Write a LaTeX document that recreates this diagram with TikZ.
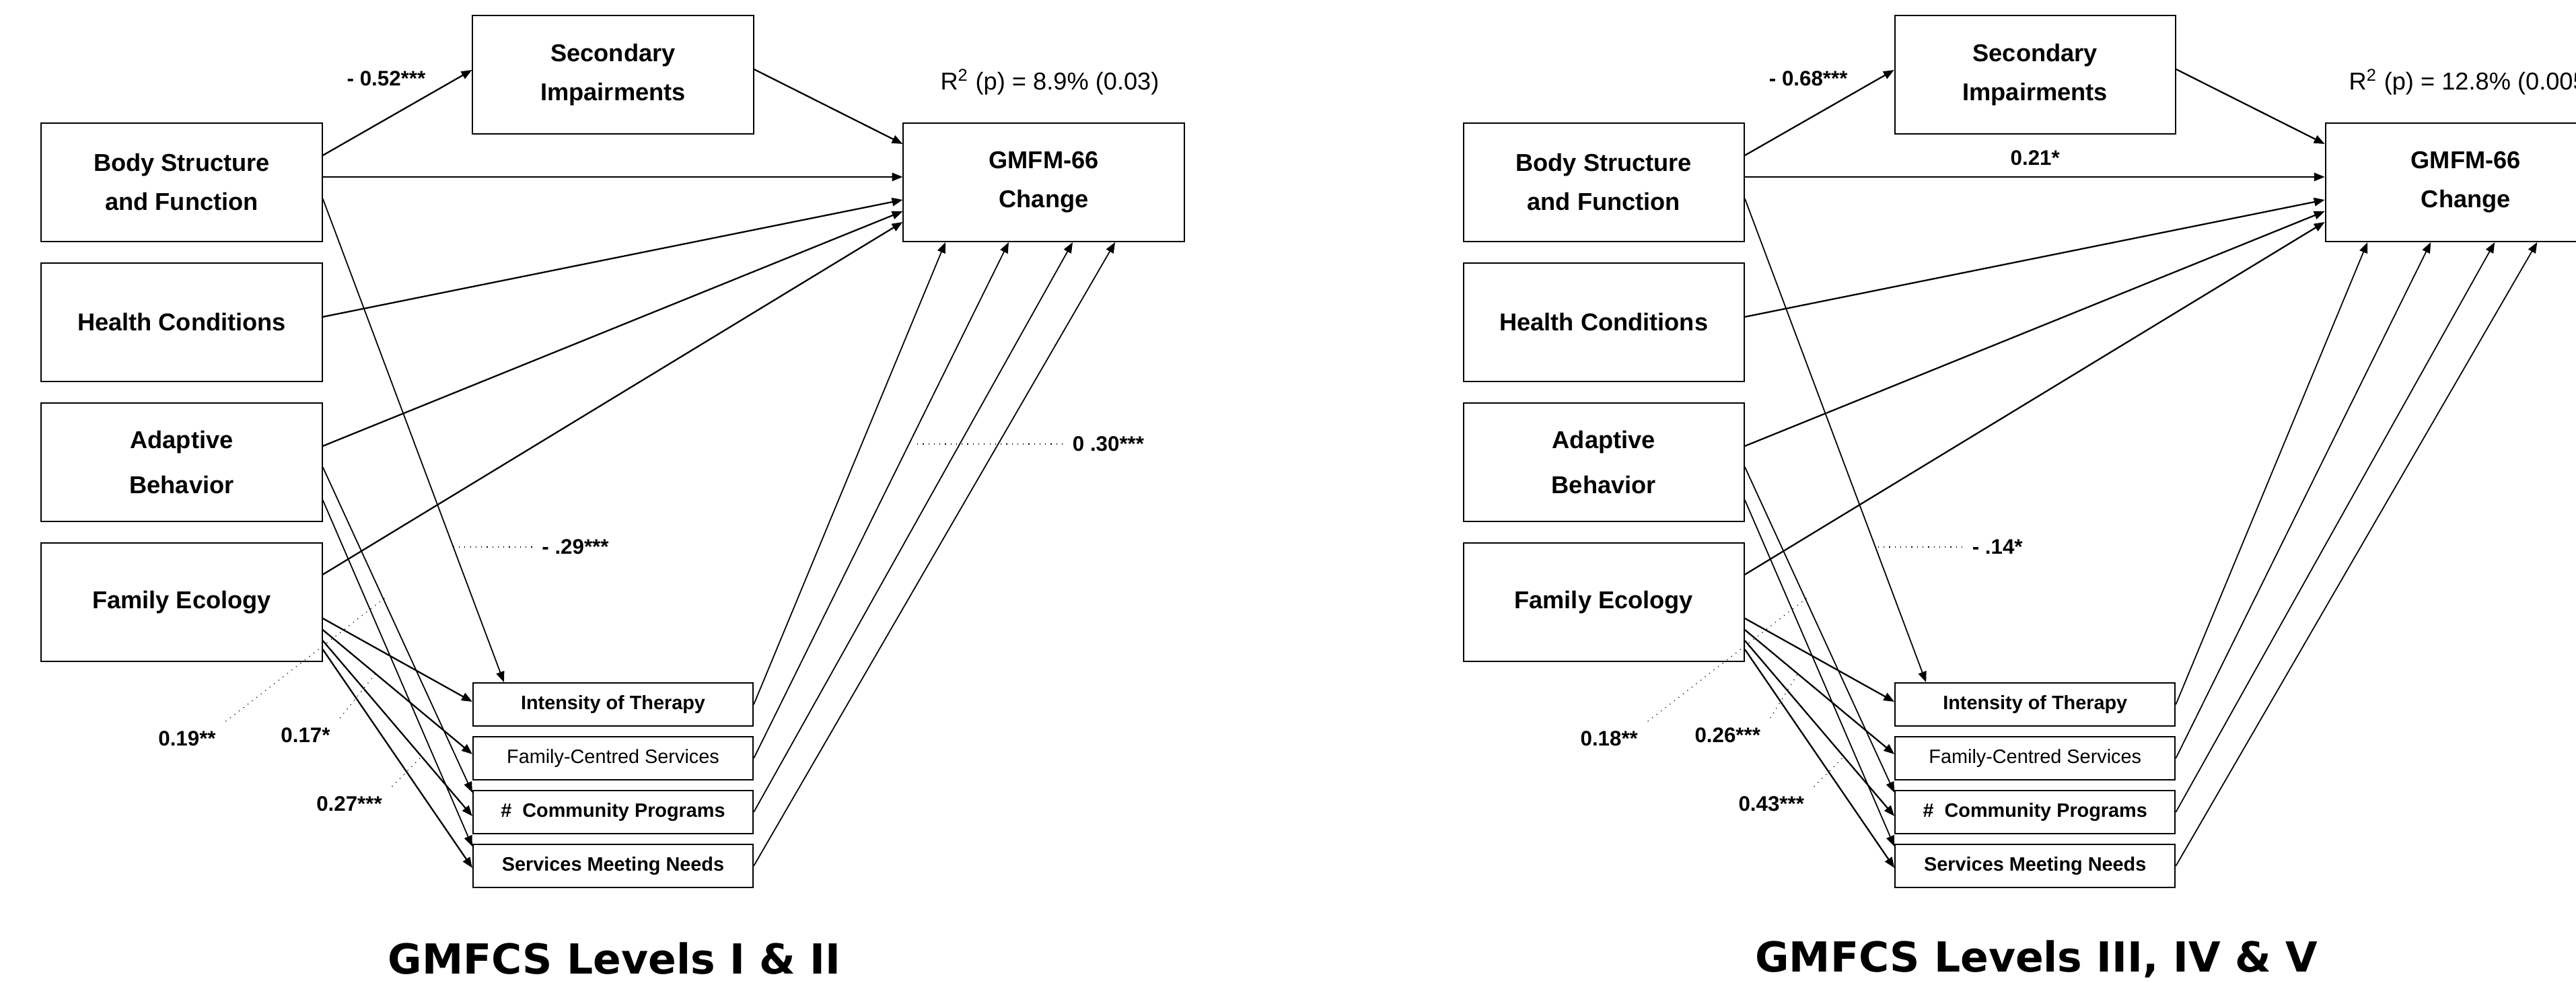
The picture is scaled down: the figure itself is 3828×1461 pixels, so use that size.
\documentclass[tikz,border=0pt]{standalone}
\usepackage{fontspec}
\setmainfont{Liberation Sans}
\newfontfamily\titlefont{DejaVu Sans}
\usetikzlibrary{arrows.meta}

\tikzset{
  bigbox/.style={draw, line width=0.55pt, minimum width=4.17cm, minimum height=1.76cm,
    inner sep=0pt, align=center, font=\fontsize{10.3}{16.5}\selectfont\bfseries},
  smallbox/.style={draw, line width=0.55pt, minimum width=4.16cm, minimum height=0.64cm,
    inner sep=0pt, font=\fontsize{8.2}{10}\selectfont\bfseries},
  coef/.style={font=\fontsize{8.9}{10}\selectfont\bfseries, inner sep=4pt},
  link/.style={line width=0.65pt, -{Triangle[length=4.5pt,width=3.5pt]}},
  thinlink/.style={link, line width=0.5pt},
  leader/.style={dotted, line width=0.35pt},
}

% one panel: suffix, coefficients, R^2, title
\newcommand{\gmfcspanel}[8]{%
  \node[bigbox] (body#1) at (270,271) {Body Structure\\and Function};
  \node[bigbox] (health#1) at (270,479) {Health Conditions};
  \node[bigbox, font=\fontsize{10.3}{19}\selectfont\bfseries] (adapt#1) at (270,687) {Adaptive\\Behavior};
  \node[bigbox] (family#1) at (270,895) {Family Ecology};
  \node[bigbox] (second#1) at (911,111) {Secondary\\Impairments};
  \node[bigbox] (gmfm#1) at (1551,271) {GMFM-66\\Change};
  \node[smallbox] (therapy#1) at (911,1047) {Intensity of Therapy};
  \node[smallbox, font=\fontsize{8.2}{10}\selectfont] (fcs#1) at (911,1127) {Family-Centred Services};
  \node[smallbox] (progs#1) at (911,1207) {\#\ \ Community Programs};
  \node[smallbox] (needs#1) at (911,1287) {Services Meeting Needs};
  % paths
  \draw[link] ([yshift=0.4cm]body#1.east) -- ([yshift=0.07cm]second#1.west);
  \draw[link] ([yshift=0.08cm]body#1.east) -- ([yshift=0.08cm]gmfm#1.west);
  \draw[thinlink] ([yshift=-0.24cm]body#1.east) -- ([xshift=-1.62cm]therapy#1.north);
  \draw[link] ([yshift=0.08cm]second#1.east) -- ([yshift=0.57cm]gmfm#1.west);
  \draw[link] ([yshift=0.08cm]health#1.east) -- ([yshift=-0.26cm]gmfm#1.west);
  \draw[link] ([yshift=0.24cm]adapt#1.east) -- ([yshift=-0.43cm]gmfm#1.west);
  \draw[thinlink] ([yshift=-0.07cm]adapt#1.east) -- ([yshift=0.29cm]progs#1.west);
  \draw[thinlink] ([yshift=-0.56cm]adapt#1.east) -- ([yshift=0.29cm]needs#1.west);
  \draw[link] ([yshift=0.41cm]family#1.east) -- ([yshift=-0.59cm]gmfm#1.west);
  \draw[link] ([yshift=-0.24cm]family#1.east) -- ([yshift=0.04cm]therapy#1.west);
  \draw[link] ([yshift=-0.41cm]family#1.east) -- ([yshift=0.06cm]fcs#1.west);
  \draw[link] ([yshift=-0.57cm]family#1.east) -- ([yshift=-0.06cm]progs#1.west);
  \draw[link] ([yshift=-0.70cm]family#1.east) -- ([yshift=-0.03cm]needs#1.west);
  \draw[thinlink] (therapy#1.east) -- ([xshift=-1.46cm]gmfm#1.south);
  \draw[thinlink] (fcs#1.east) -- ([xshift=-0.52cm]gmfm#1.south);
  \draw[thinlink] (progs#1.east) -- ([xshift=0.43cm]gmfm#1.south);
  \draw[thinlink] (needs#1.east) -- ([xshift=1.06cm]gmfm#1.south);
  % labels
  \node[coef] (csec#1) at (574,117) {#2};
  \node[font=\fontsize{10.3}{12}\selectfont] (rsq#1) at (1560,122) {R\textsuperscript{2} (p) = #3};
  \node[coef] (cmid#1) at (855,813) {#4};
  \coordinate (cmide#1) at (673,813);
  \draw[leader] (cmid#1.west) -- (cmide#1);
  \node[coef] (cfa#1) at (278,1098) {#5};
  \coordinate (cfae#1) at (574,887);
  \draw[leader] (cfa#1.north east) -- (cfae#1);
  \node[coef] (cfb#1) at (454,1093) {#6};
  \coordinate (cfbe#1) at (559,1000);
  \draw[leader] (cfb#1.north east) -- (cfbe#1);
  \node[coef] (cfc#1) at (519,1195) {#7};
  \coordinate (cfce#1) at (624,1127);
  \draw[leader] (cfc#1.north east) -- (cfce#1);
  \node[font=\titlefont\fontsize{17.5}{20}\selectfont\bfseries] (title#1) at (913,1425) {GMFCS Levels #8};
}

\begin{document}
\begin{tikzpicture}[x=0.01cm, y=-0.01cm]
\clip (0,0) rectangle (3828,1461);

% GMFCS I-II
\gmfcspanel{L}{- 0.52***}{8.9\% (0.03)}{- .29***}{0.19**}{0.17*}{0.27***}{I \& II}
\node[coef] (cserv) at (1647,660) {0 .30***};
\coordinate (cserve) at (1358,660);
\draw[leader] (cserv.west) -- (cserve);

% GMFCS III-V
\begin{scope}[xshift=21.12cm]
\gmfcspanel{R}{- 0.68***}{12.8\% (0.005)}{- .14*}{0.18**}{0.26***}{0.43***}{III, IV \& V}
\node[coef] (cbody) at (911,235) {0.21*};
\end{scope}
\end{tikzpicture}
\end{document}
